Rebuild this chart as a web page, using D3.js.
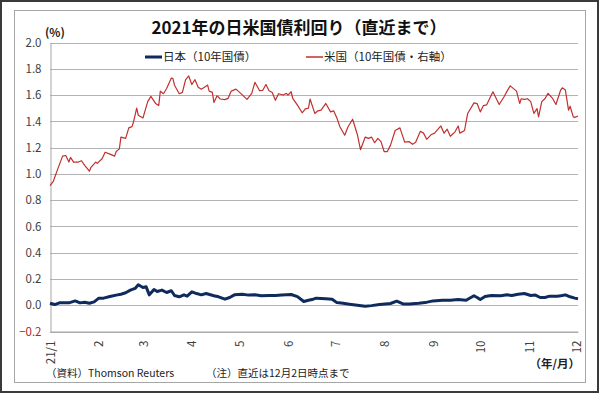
<!DOCTYPE html>
<html><head><meta charset="utf-8">
<script src="https://cdn.jsdelivr.net/npm/d3@7"></script>
<style>
html,body{margin:0;padding:0;background:#fff;}
svg{display:block;}
text{font-family:"Noto Sans CJK JP","Noto Sans",sans-serif;}
</style></head>
<body>
<svg id="c" width="600" height="394"></svg>
<script>
// ---- data ----
const usDates = ["01-01","01-03","01-06","01-09","01-11","01-13","01-14","01-16","01-19","01-21","01-23","01-26","01-27","01-30","01-31",
"02-03","02-05","02-08","02-11","02-12","02-14","02-15","02-18","02-20","02-22","02-23","02-25","02-26",
"03-01","03-04","03-06","03-09","03-11","03-12","03-14","03-16","03-19","03-20","03-21","03-24","03-26","03-28","03-30",
"04-01","04-03","04-05","04-07","04-09","04-11","04-12","04-14","04-15","04-17","04-19","04-22","04-24","04-26","04-29",
"05-02","05-06","05-09","05-11","05-14","05-16","05-18","05-20","05-22","05-24","05-26","05-29","05-31",
"06-01","06-03","06-04","06-07","06-10","06-12","06-14","06-15","06-18","06-20","06-22","06-25","06-28","06-30",
"07-02","07-04","07-07","07-09","07-12","07-15","07-17","07-20","07-22","07-24","07-26","07-28","07-30",
"08-01","08-03","08-05","08-08","08-11","08-13","08-14","08-17","08-19","08-21","08-24","08-26","08-28","08-31",
"09-02","09-06","09-08","09-10","09-12","09-15","09-17","09-18","09-21","09-23","09-27","09-29",
"10-01","10-03","10-05","10-09","10-13","10-16","10-18","10-20","10-24","10-26","10-27","10-29","10-31",
"11-02","11-04","11-06","11-07","11-09","11-11","11-13","11-16","11-18","11-21","11-22","11-24","11-26","11-27","11-29","11-30",
"12-02"];
const usYield = [0.91,0.94,1.04,1.135,1.14,1.09,1.125,1.09,1.09,1.10,1.065,1.02,1.05,1.09,1.08,
1.115,1.165,1.15,1.135,1.17,1.19,1.28,1.27,1.35,1.36,1.395,1.50,1.447,
1.426,1.55,1.59,1.536,1.52,1.63,1.61,1.65,1.73,1.725,1.675,1.61,1.62,1.715,1.745,
1.68,1.717,1.66,1.645,1.66,1.676,1.63,1.62,1.544,1.595,1.57,1.565,1.575,1.63,1.645,
1.613,1.567,1.613,1.697,1.633,1.636,1.68,1.633,1.62,1.56,1.61,1.60,1.613,
1.60,1.625,1.575,1.523,1.465,1.495,1.50,1.57,1.46,1.48,1.485,1.536,1.472,1.48,
1.426,1.357,1.294,1.357,1.416,1.30,1.184,1.28,1.27,1.28,1.237,1.27,1.245,
1.17,1.17,1.217,1.33,1.35,1.28,1.242,1.245,1.225,1.24,1.324,1.31,1.263,1.30,
1.31,1.365,1.31,1.34,1.286,1.32,1.365,1.31,1.33,1.46,1.54,1.535,
1.472,1.52,1.525,1.625,1.528,1.585,1.63,1.67,1.63,1.536,1.572,1.567,1.572,
1.55,1.46,1.497,1.434,1.55,1.572,1.613,1.572,1.528,1.638,1.655,1.638,1.485,1.515,1.434,1.43,
1.44];

const jpDates = ["01-01","01-04","01-07","01-13","01-17","01-20","01-23","01-26","01-29",
"02-01","02-04","02-08","02-12","02-15","02-18","02-21","02-24","02-26",
"03-01","03-03","03-05","03-08","03-10","03-13","03-16","03-19","03-21","03-24","03-27","03-29",
"04-01","04-04","04-07","04-10","04-15","04-18","04-22","04-25","04-28",
"05-03","05-07","05-11","05-15","05-20","05-24","05-28",
"06-03","06-07","06-11","06-14","06-17","06-19","06-25","06-29",
"07-02","07-06","07-10","07-15","07-20","07-24","07-29",
"08-05","08-09","08-13","08-17","08-23","08-27",
"09-01","09-07","09-12","09-17","09-22","09-27","09-29",
"10-01","10-04","10-08","10-14","10-18","10-21","10-25","10-29",
"11-02","11-05","11-08","11-11","11-14","11-19","11-22","11-24","11-27","11-30",
"12-02"];
const jpYield = [0.015,0.005,0.018,0.018,0.033,0.018,0.023,0.015,0.026,
0.054,0.054,0.066,0.077,0.084,0.095,0.115,0.128,0.156,
0.135,0.14,0.079,0.12,0.105,0.115,0.097,0.11,0.074,0.064,0.079,0.069,
0.102,0.089,0.079,0.089,0.072,0.064,0.046,0.059,0.079,
0.084,0.077,0.079,0.072,0.074,0.074,0.077,
0.082,0.066,0.028,0.038,0.046,0.054,0.049,0.046,
0.02,0.015,0.008,0.0,-0.008,-0.003,0.005,
0.013,0.031,0.01,0.01,0.015,0.02,
0.033,0.038,0.038,0.043,0.038,0.072,0.059,
0.043,0.066,0.074,0.072,0.079,0.074,0.084,0.089,
0.074,0.077,0.059,0.059,0.069,0.069,0.074,0.079,0.064,0.054,
0.05];

const yTicks = [-0.2,0,0.2,0.4,0.6,0.8,1.0,1.2,1.4,1.6,1.8,2.0];
const monthTicks = ["01-01","02-01","03-01","04-01","05-01","06-01","07-01","08-01","09-01","10-01","11-01","12-01"];
const monthLabels = ["21/1","2","3","4","5","6","7","8","9","10","11","12"];

const titleText = "2021年の日米国債利回り（直近まで）";
const legendJp = "日本（10年国債）";
const legendUs = "米国（10年国債・右軸）";
const unitText = "(%)";
const xUnitText = "（年/月）";
const sourceText = "（資料）Thomson Reuters";
const noteText = "（注）直近は12月2日時点まで";

// ---- drawing ----
const parse = s => d3.timeParse("%Y-%m-%d")("2021-" + s);
const us = usDates.map((d,i)=>({date:parse(d), v:usYield[i]}));
const jp = jpDates.map((d,i)=>({date:parse(d), v:jpYield[i]}));

const svg = d3.select("#c");
const L = 50, R = 578, T = 42.5, B = 331.5;

// frames
svg.append("rect").attr("x",1).attr("y",1).attr("width",597).attr("height",391)
  .attr("fill","#fff").attr("stroke","#3a3a3a").attr("stroke-width",2);
svg.append("rect").attr("x",14.5).attr("y",10.5).attr("width",571).attr("height",372)
  .attr("fill","none").attr("stroke","#a6a6a6").attr("stroke-width",1);

const x = d3.scaleTime().domain([parse("01-01"), parse("12-02")]).range([L, R]);
const y = d3.scaleLinear().domain([-0.2, 2.0]).range([B, T]);

// gridlines
svg.append("g").selectAll("line").data(yTicks).join("line")
  .attr("x1",L).attr("x2",R)
  .attr("y1",d=>Math.round(y(d))+0.5).attr("y2",d=>Math.round(y(d))+0.5)
  .attr("stroke","#b3b3b3").attr("stroke-width",1);

// y axis
const yAxis = d3.axisLeft(y).tickValues(yTicks).tickFormat(d3.format(".1f")).tickSize(0).tickPadding(9);
const gy = svg.append("g").attr("transform",`translate(${L+0.5},0)`).call(yAxis);
gy.select(".domain").attr("stroke","#a6a6a6");
gy.selectAll("text").attr("font-size",11.5).attr("fill",d=>d<0?"#b02424":"#404040")
  .attr("font-family","'Noto Sans','DejaVu Sans',sans-serif");

// x axis
const xAxis = d3.axisBottom(x).tickValues(monthTicks.map(parse))
  .tickFormat((d,i)=>monthLabels[i]).tickSize(0).tickPadding(0);
const gx = svg.append("g").attr("transform",`translate(0,${B})`).call(xAxis);
gx.select(".domain").attr("stroke","#a6a6a6");
gx.selectAll("text").attr("font-size",11.5).attr("fill","#404040")
  .attr("font-family","'Noto Sans','DejaVu Sans',sans-serif")
  .attr("transform","rotate(-90)").attr("text-anchor","end")
  .attr("x",-9).attr("y",0).attr("dy","0.35em");

// lines
const line = d3.line().x(d=>x(d.date)).y(d=>y(d.v)).curve(d3.curveLinear);
svg.append("path").datum(jp).attr("d",line).attr("fill","none")
  .attr("stroke","#0f2a5c").attr("stroke-width",3).attr("stroke-linejoin","round");
svg.append("path").datum(us).attr("d",line).attr("fill","none")
  .attr("stroke","#c0302e").attr("stroke-width",1.2).attr("stroke-linejoin","round");

// title
svg.append("text").attr("x",299).attr("y",34).attr("text-anchor","middle")
  .attr("font-size",17).attr("font-weight","bold").attr("fill","#111").text(titleText);

// legend
const lg = [{t:legendJp,c:"#0f2a5c",w:3,x:145},{t:legendUs,c:"#c0302e",w:1.5,x:306}];
lg.forEach(l=>{
  svg.append("line").attr("x1",l.x).attr("x2",l.x+17).attr("y1",57).attr("y2",57)
    .attr("stroke",l.c).attr("stroke-width",l.w);
  svg.append("text").attr("x",l.x+18).attr("y",61).attr("font-size",11.5).attr("fill","#222").text(l.t);
});

// misc text
svg.append("text").attr("x",45).attr("y",37).attr("font-size",11.5).attr("font-weight","bold").attr("fill","#222").text(unitText);
svg.append("text").attr("x",580).attr("y",368).attr("text-anchor","end").attr("font-size",11.5).attr("font-weight","bold").attr("fill","#222").text(xUnitText);
svg.append("text").attr("x",46).attr("y",377).attr("font-size",10.5).attr("fill","#222").text(sourceText);
svg.append("text").attr("x",206).attr("y",377).attr("font-size",10.5).attr("fill","#222").text(noteText);
</script>
</body></html>
